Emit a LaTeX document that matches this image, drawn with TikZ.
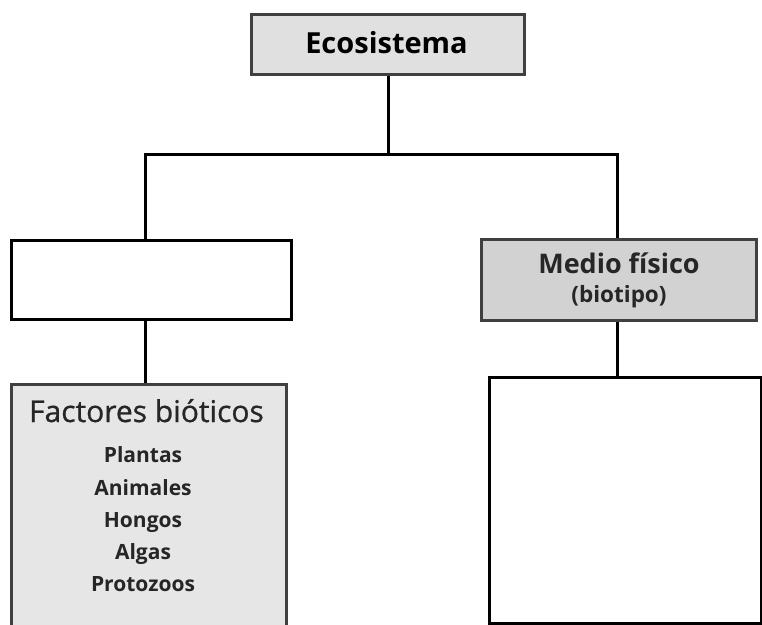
\documentclass[tikz,border=0pt]{standalone}
\usepackage{fontspec}
\setmainfont{Open Sans}
\begin{document}
\begin{tikzpicture}[x=1pt,y=-1pt,
  box/.style={draw=black, line width=3pt, fill=white, inner sep=0pt, anchor=north west},
  graybox/.style={draw=black!75, line width=3pt, inner sep=0pt, anchor=north west},
  conn/.style={draw=black, line width=3pt},
  lbl/.style={anchor=base, inner sep=0pt, text=black!85},
  item/.style={lbl, font=\bfseries\fontsize{21}{24}\selectfont}
]
\definecolor{ecofill}{HTML}{E0E0E0}
\definecolor{medfill}{HTML}{D2D2D2}
\definecolor{facfill}{HTML}{E6E6E6}
\useasboundingbox (0,0) rectangle (762,624);
% boxes
\node[graybox, fill=ecofill, minimum width=273pt, minimum height=60pt] (eco) at (250,13) {};
\node[box, minimum width=280pt, minimum height=79pt] (lb) at (10,239) {};
\node[graybox, fill=medfill, minimum width=275pt, minimum height=81pt] (med) at (480,238) {};
\node[graybox, fill=facfill, minimum width=275pt, minimum height=260pt] (fb) at (10,383) {};
\node[box, minimum width=272pt, minimum height=246pt] (rb) at (488,376) {};
% connectors
\coordinate (hl) at (145,154);
\coordinate (hr) at (617,154);
\draw[conn] (eco.south) -- (eco.south |- hl);
\draw[conn] (hl |- lb.north) -- (hl) -- (hr) -- (hr |- med.north);
\draw[conn] (hl |- lb.south) -- (hl |- fb.north);
\draw[conn] (hr |- med.south) -- (hr |- rb.north);
% texts
\node[lbl, text=black, font=\bfseries\fontsize{29}{32}\selectfont] (t1) at (386.5,53) {Ecosistema};
\node[lbl, font=\bfseries\fontsize{27}{30}\selectfont] (t2) at (619,273) {Medio físico};
\node[lbl, font=\bfseries\fontsize{22.5}{26}\selectfont] (t3) at (619,302) {(biotipo)};
\node[lbl, font=\addfontfeature{FakeBold=0.8}\fontsize{30}{34}\selectfont] (t4) at (146.5,422) {Factores bióticos};
\node[item] (t5) at (143,462) {Plantas};
\node[item] (t6) at (143,495) {Animales};
\node[item] (t7) at (143,527) {Hongos};
\node[item] (t8) at (143,559) {Algas};
\node[item] (t9) at (143,591) {Protozoos};
\end{tikzpicture}
\end{document}
